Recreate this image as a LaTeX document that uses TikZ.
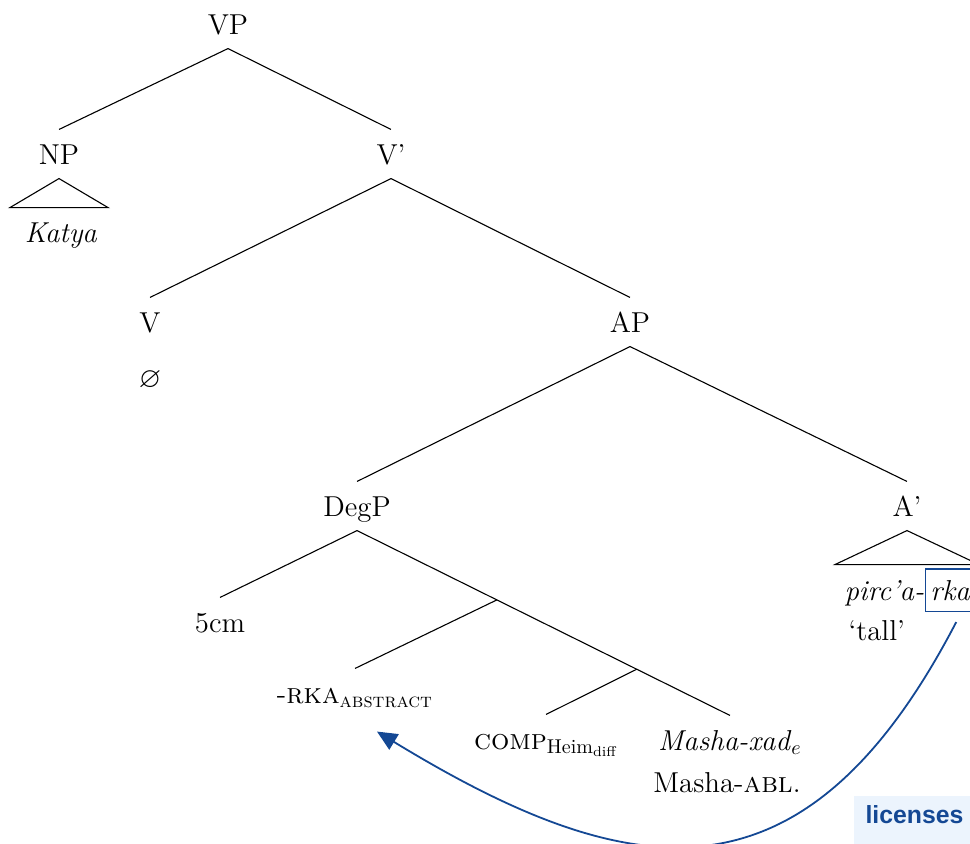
\documentclass[tikz,border=0pt]{standalone}
\usepackage{amsmath,amssymb}
\usepackage{fontspec}
\newfontfamily\notefont{Liberation Sans}
\usetikzlibrary{arrows.meta,calc,positioning}
\definecolor{linkblue}{RGB}{20,72,148}
\definecolor{notefill}{RGB}{236,244,253}

\begin{document}
\begin{tikzpicture}[x=0.5pt, y=-0.5pt, font=\Large, line width=0.55pt,
    cat/.style={anchor=base, text height=10pt, text depth=0pt, inner xsep=1pt, inner ysep=7pt},
    gloss/.style={anchor=base, inner sep=1pt},
    note/.style={anchor=base west, fill=notefill, text=linkblue, inner xsep=6pt, inner ysep=4.5pt,
      text depth=6pt, font={\notefont\bfseries\fontsize{12.4pt}{14pt}\selectfont}}]
    \useasboundingbox (0,0) rectangle (970,843);
    \clip (0,0) rectangle (970,843);

    % Baum
    \node[cat] (VP) at (228,34) {VP};
    \node[cat] (NP) at (59,164) {NP};
    \node[cat] (Vbar) at (391,164) {V'};
    \node[cat] (Katya) at (61,242) {\textit{Katya}};
    \node[cat] (V) at (150,332) {V};
    \node[gloss] (null) at (150,387) {$\varnothing$};
    \node[cat] (AP) at (630,332) {AP};
    \node[cat] (DegP) at (357,516) {DegP};
    \node[cat] (Abar) at (907,516) {A'};
    \node[cat] (cm) at (220,632) {5cm};
    \node[cat] (rkaabs) at (355,703) {-\textsc{rka}$_{\text{\textsc{abstract}}}$};
    \node[cat] (comp) at (546,749) {\textsc{comp}$_{\text{Heim}_{\text{diff}}}$};
    \node[cat] (masha) at (730,750) {\textit{Masha-xad}$_e$};
    \node[gloss] (mashagl) at (727,792) {Masha-\textsc{abl}.};
    \node[gloss, anchor=base west, inner xsep=0pt] (pirc) at (844,600) {\textit{pirc'a-}};
    \node[gloss, anchor=base west, draw=linkblue, line width=0.75pt, inner xsep=2.5pt, inner ysep=5.5pt]
      (rka) at (pirc.base east) {\textit{rka}};
    \node[gloss, anchor=base west] (tall) at (846,640) {`tall'};
    \node[note] (lic) at (853,823) {licenses};

    \coordinate (X) at ($(DegP.south)!0.375!(masha.north)$);
    \coordinate (Y) at ($(DegP.south)!0.75!(masha.north)$);

    \draw (VP.south)--(NP.north); \draw (VP.south)--(Vbar.north);
    \draw (Vbar.south)--(V.north); \draw (Vbar.south)--(AP.north);
    \draw (AP.south)--(DegP.north); \draw (AP.south)--(Abar.north);
    \draw (DegP.south)--(cm.north); \draw (DegP.south)--(masha.north);
    \draw (X)--(rkaabs.north); \draw (Y)--(comp.north);
    \draw (NP.south) -- ++(-49,29) -- ++(98,0) -- cycle;
    \draw (Abar.south) -- ++(-72,34) -- ++(144,0) -- cycle;

    \draw[linkblue, line width=0.9pt, -{Triangle[length=10pt,width=9pt]}]
      ([xshift=3pt,yshift=-5pt]rka.south) .. controls (805,913) and (632,887) .. ([xshift=11pt,yshift=-7pt]rkaabs.south);
\end{tikzpicture}
\end{document}
